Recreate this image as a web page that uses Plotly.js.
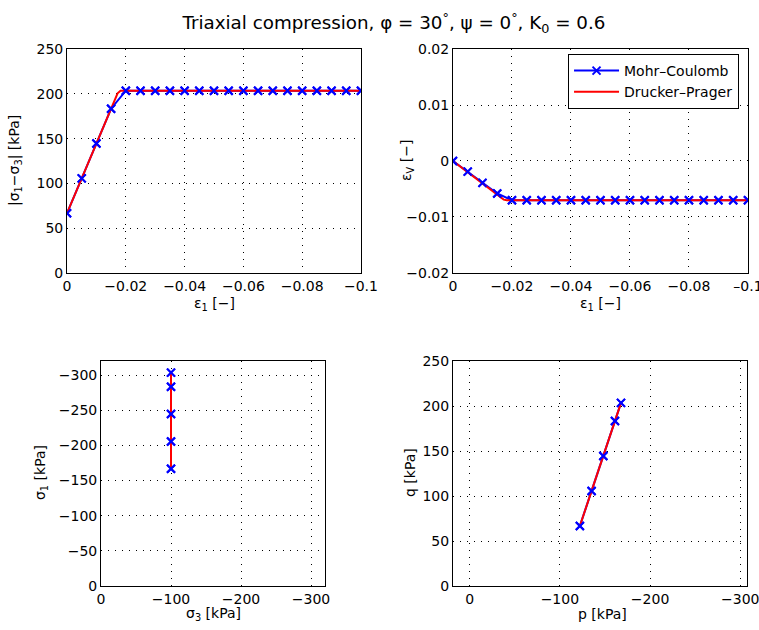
<!DOCTYPE html>
<html>
<head>
<meta charset="utf-8">
<script src="https://cdn.plot.ly/plotly-3.0.1.min.js"></script>
<style>html,body{margin:0;padding:0;background:#fff;}</style>
</head>
<body>
<div id="chart" style="width:759px;height:630px;"></div>
<script>
// Mohr–Coulomb data (axial strain steps)
const eps1 = [0, -0.005, -0.01, -0.015, -0.02, -0.025, -0.03, -0.035, -0.04, -0.045, -0.05,
              -0.055, -0.06, -0.065, -0.07, -0.075, -0.08, -0.085, -0.09, -0.095, -0.1];
const qMC = [66.7, 105.6, 144.5, 183.4, 203.5, 203.5, 203.5, 203.5, 203.5, 203.5, 203.5,
             203.5, 203.5, 203.5, 203.5, 203.5, 203.5, 203.5, 203.5, 203.5, 203.5];
const epsvMC = [0, -0.0019, -0.0039, -0.0058, -0.007, -0.007, -0.007, -0.007, -0.007, -0.007, -0.007,
                -0.007, -0.007, -0.007, -0.007, -0.007, -0.007, -0.007, -0.007, -0.007, -0.007];
const sig3MC = [-100, -100, -100, -100, -100];
const sig1MC = [-166.7, -205.6, -244.5, -283.4, -303.5];
const pMC = [-122.2, -135.2, -148.2, -161.1, -167.8];
const qMCpath = [66.7, 105.6, 144.5, 183.4, 203.5];

// Drucker–Prager data
const eps1DP = [0, -0.005, -0.01, -0.015, -0.0172, -0.0182, -0.1];
const qDP = [66.7, 105.6, 144.5, 183.4, 200.5, 203.5, 203.5];
const epsvDP = [0, -0.002, -0.004, -0.006, -0.0069, -0.007, -0.007];
const sig3DP = [-100, -100];
const sig1DP = [-166.7, -303.5];
const pDP = [-122.2, -167.8];
const qDPpath = [66.7, 203.5];

// tick labels
const epsTicks = [0, -0.02, -0.04, -0.06, -0.08, -0.1];
const epsTickText = ['0', '\u22120.02', '\u22120.04', '\u22120.06', '\u22120.08', '\u22120.1'];
const epsTickText2 = ['0', '\u22120.02', '\u22120.04', '\u22120.06', '\u22120.08', '\u20130.1'];
const qTicks = [0, 50, 100, 150, 200, 250];
const evTicks = [0.02, 0.01, 0, -0.01, -0.02];
const evTickText = ['0.02', '0.01', '0', '\u22120.01', '\u22120.02'];
const s1Ticks = [0, -50, -100, -150, -200, -250, -300];
const s1TickText = ['0', '\u221250', '\u2212100', '\u2212150', '\u2212200', '\u2212250', '\u2212300'];
const s3Ticks = [0, -100, -200, -300];
const s3TickText = ['0', '\u2212100', '\u2212200', '\u2212300'];

const BLUE = '#0000ff', RED = '#ff0000';
const mk = {symbol: 'x-thin', size: 8, color: BLUE, line: {color: BLUE, width: 2}};

const traces = [];
function addSet(xa, ya, xMC, yMC, xDP, yDP, legend) {
  traces.push({x: xMC, y: yMC, xaxis: xa, yaxis: ya, mode: 'lines+markers', name: 'Mohr\u2013Coulomb',
    line: {color: BLUE, width: 2}, marker: mk, showlegend: legend});
  traces.push({x: xDP, y: yDP, xaxis: xa, yaxis: ya, mode: 'lines', name: 'Drucker\u2013Prager',
    line: {color: RED, width: 2}, showlegend: legend});
  traces.push({x: xMC, y: yMC, xaxis: xa, yaxis: ya, mode: 'markers', marker: mk, showlegend: false, hoverinfo: 'skip'});
}
addSet('x', 'y', eps1, qMC, eps1DP, qDP, false);
addSet('x2', 'y2', eps1, epsvMC, eps1DP, epsvDP, true);
addSet('x3', 'y3', sig3MC, sig1MC, sig3DP, sig1DP, false);
addSet('x4', 'y4', pMC, qMCpath, pDP, qDPpath, false);

const FONT = 'DejaVu Sans, sans-serif';
const FS = 14;
function ax(domain, range, tickvals, ticktext, anchor) {
  const a = {
    domain: domain, range: range, autorange: false,
    tickmode: 'array', tickvals: tickvals,
    showline: true, linecolor: '#000', linewidth: 1, mirror: true,
    ticks: '', ticklabelstandoff: 0, ticklabeloverflow: 'allow',
    showgrid: true, gridcolor: '#000', gridwidth: 1, griddash: '1px,6px',
    zeroline: false, anchor: anchor,
    tickfont: {family: FONT, size: FS, color: '#000'}
  };
  if (ticktext) a.ticktext = ticktext;
  return a;
}

function px2x(p) { return p / 759; }
function px2y(p) { return 1 - p / 630; }
function atitle(text, xp, yp, rot) {
  return {text: text, xref: 'paper', yref: 'paper', x: px2x(xp), y: px2y(yp),
    xanchor: 'center', yanchor: 'middle', showarrow: false, textangle: rot,
    font: {family: FONT, size: FS, color: '#000'}};
}

const annotations = [
  atitle('\u03b5<sub>1</sub> [\u2212]', 214, 304, 0),
  atitle('|\u03c3<sub>1</sub>\u2212\u03c3<sub>3</sub>| [kPa]', 15, 161, -90),
  atitle('\u03b5<sub>1</sub> [\u2212]', 600, 304, 0),
  atitle('\u03b5<sub>V</sub> [\u2212]', 407, 161, -90),
  atitle('\u03c3<sub>3</sub> [kPa]', 213, 614, 0),
  atitle('\u03c3<sub>1</sub> [kPa]', 41, 473, -90),
  atitle('p [kPa]', 602, 614, 0),
  atitle('q [kPa]', 410, 473, -90)
];

const layout = {
  width: 759, height: 630,
  margin: {l: 0, r: 0, t: 0, b: 0},
  paper_bgcolor: '#fff', plot_bgcolor: '#fff',
  font: {family: FONT, color: '#000'},
  title: {text: 'Triaxial compression, \u03c6 = 30<sup>\u00b0</sup>, \u03c8 = 0<sup>\u00b0</sup>, K<sub>0</sub> = 0.6',
    font: {family: FONT, size: 18.3, color: '#000'}, x: 0.519, xanchor: 'center', y: px2y(23), yanchor: 'middle'},
  showlegend: true,
  legend: {x: 0.7484, y: px2y(54), xanchor: 'left', yanchor: 'top', bgcolor: '#fff',
    bordercolor: '#000', borderwidth: 1, font: {family: FONT, size: FS, color: '#000'},
    tracegroupgap: 0, itemwidth: 45},
  annotations: annotations,
  xaxis: ax([0.0883, 0.4756], [0, -0.10001], epsTicks, epsTickText, 'y'),
  yaxis: ax([0.5667, 0.9222], [0, 250], qTicks, null, 'x'),
  xaxis2: ax([0.5968, 0.9855], [0, -0.10001], epsTicks, epsTickText2, 'y2'),
  yaxis2: ax([0.5667, 0.9222], [-0.02, 0.02], evTicks, evTickText, 'x2'),
  xaxis3: ax([0.1331, 0.4282], [0, -320], s3Ticks, s3TickText, 'y3'),
  yaxis3: ax([0.0698, 0.4270], [0, -320], s1Ticks, s1TickText, 'x3'),
  xaxis4: ax([0.5968, 0.9842], [18.5, -307.5], s3Ticks, s3TickText, 'y4'),
  yaxis4: ax([0.0698, 0.4270], [0, 250], qTicks, null, 'x4')
};

Plotly.newPlot('chart', traces, layout, {displayModeBar: false, responsive: false});
</script>
</body>
</html>
